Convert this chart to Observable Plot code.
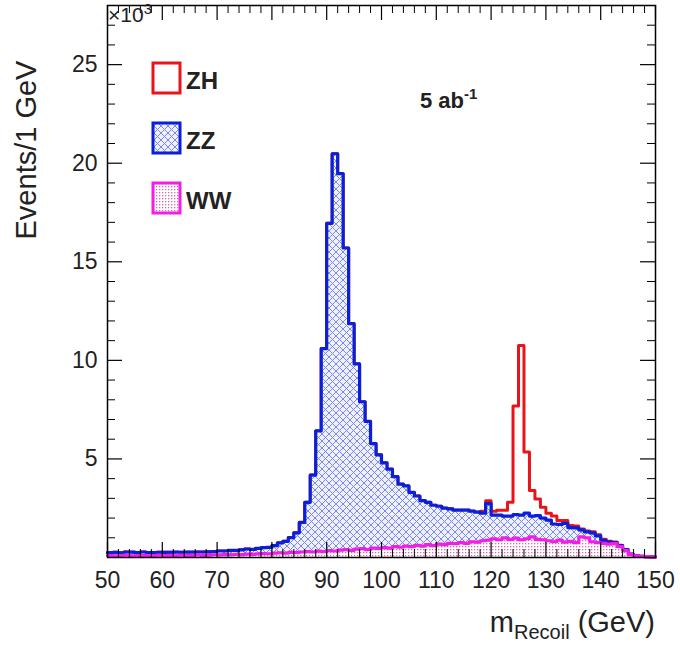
<!DOCTYPE html>
<html><head><meta charset="utf-8">
<script src="https://cdn.jsdelivr.net/npm/d3@7"></script>
<script src="https://cdn.jsdelivr.net/npm/@observablehq/plot@0.6"></script>
<style>body{margin:0;background:#fff}</style>
</head><body><div id="c"></div>
<script>
// bin lower edges 50..149 (1 GeV), values in 10^3 events
const binStart = d3.range(50, 150);
const ww = [
0.10,0.08,0.10,0.12,0.09,0.10,0.11,0.09,0.10,0.12,
0.10,0.11,0.09,0.12,0.10,0.11,0.13,0.10,0.12,0.14,
0.13,0.15,0.14,0.16,0.15,0.17,0.16,0.18,0.20,0.19,
0.22,0.24,0.22,0.26,0.25,0.28,0.30,0.28,0.32,0.30,
0.35,0.33,0.37,0.40,0.36,0.42,0.45,0.40,0.48,0.46,
0.50,0.48,0.55,0.52,0.58,0.55,0.62,0.58,0.65,0.60,
0.68,0.65,0.72,0.70,0.75,0.72,0.80,0.78,0.85,0.88,
0.95,0.90,1.00,0.92,0.98,0.90,0.95,1.05,0.92,0.90,
0.85,0.80,0.88,0.78,0.82,0.75,1.05,1.00,0.80,0.75,
0.72,0.68,0.70,0.55,0.35,0.15,0.08,0.05,0.04,0.03];
const zz = [
0.15,0.18,0.14,0.16,0.18,0.15,0.17,0.16,0.15,0.14,
0.16,0.15,0.18,0.14,0.17,0.16,0.15,0.18,0.17,0.16,
0.20,0.18,0.22,0.20,0.24,0.26,0.25,0.28,0.30,0.32,
0.38,0.50,0.60,0.75,1.00,1.50,2.50,3.90,6.10,10.30,
16.60,20.15,19.10,15.30,11.50,9.40,7.45,6.50,5.30,4.75,
4.30,4.00,3.55,3.20,3.05,2.75,2.50,2.30,2.15,2.05,
1.92,1.85,1.75,1.70,1.65,1.68,1.55,1.52,1.40,1.85,
1.20,1.25,1.10,1.18,1.20,1.25,1.30,1.05,1.20,1.10,
1.05,0.90,0.80,0.95,0.70,0.75,0.35,0.30,0.45,0.35,
0.15,0.10,0.06,0.05,0.05,0.02,0.01,0.01,0.00,0.00];
const zh = [
0,0,0,0,0,0,0,0,0,0, 0,0,0,0,0,0,0,0,0,0,
0,0,0,0,0,0,0,0,0,0, 0,0,0,0,0,0,0,0,0,0,
0,0,0,0,0,0,0,0,0,0, 0,0,0,0,0,0,0,0,0,0,
0,0,0,0,0,0,0,0,0.10,0.15,
0.20,0.25,0.30,0.70,5.50,8.60,3.10,1.30,0.85,0.55,
0.35,0.40,0.20,0.15,0.10,0.10,0.05,0.05,0.05,0.05,
0.05,0.05,0.03,0.02,0.01,0,0,0,0,0];
const xTicks = [50,60,70,80,90,100,110,120,130,140,150];
const yTicks = [5,10,15,20,25];

const rows = binStart.map((x,i)=>({x, ww:ww[i], zzt:ww[i]+zz[i], tot:ww[i]+zz[i]+zh[i]}));
rows.push({...rows[rows.length-1], x:150});

const W=680,H=647, ml=107, mr=25, mt=5, mb=90;
const yMax=28;
const pxX = (W-ml-mr)/100, pxY=(H-mt-mb)/yMax;
const majX = xTicks, minX = d3.range(50,151,2).filter(v=>!majX.includes(v));
const majY = yTicks, minY = d3.range(1,28,1).filter(v=>!majY.includes(v));
const tx=l=>l/pxY, ty=l=>l/pxX;

const plot = Plot.plot({
  width:W, height:H, marginLeft:ml, marginRight:mr, marginTop:mt, marginBottom:mb,
  x:{domain:[50,150], ticks:xTicks, tickSize:0, tickPadding:14, label:null},
  y:{domain:[0,yMax], ticks:yTicks, tickSize:0, tickPadding:10, label:null},
  style:{fontFamily:"Liberation Sans, Arial, sans-serif", fontSize:"23px", color:"#222"},
  marks:[
    Plot.areaY(rows,{x:"x",y:"tot",curve:"step-after",fill:"#fff"}),
    Plot.lineY(rows,{x:"x",y:"tot",curve:"step-after",stroke:"#e8141a",strokeWidth:3}),
    Plot.areaY(rows,{x:"x",y:"zzt",curve:"step-after",fill:"#ccd0f3"}),
    Plot.lineY(rows,{x:"x",y:"zzt",curve:"step-after",stroke:"#0b1fd6",strokeWidth:3.2}),
    Plot.areaY(rows,{x:"x",y:"ww",curve:"step-after",fill:"#f6dcec"}),
    Plot.lineY(rows,{x:"x",y:"ww",curve:"step-after",stroke:"#f01ee6",strokeWidth:3.2}),
    Plot.ruleX(majX,{y1:0,y2:tx(15),stroke:"#000",strokeWidth:1.2}),
    Plot.ruleX(minX,{y1:0,y2:tx(8),stroke:"#000"}),
    Plot.ruleX(majX,{y1:yMax,y2:yMax-tx(15),stroke:"#000",strokeWidth:1.2}),
    Plot.ruleX(minX,{y1:yMax,y2:yMax-tx(8),stroke:"#000"}),
    Plot.ruleY(majY,{x1:50,x2:50+ty(15),stroke:"#000",strokeWidth:1.2}),
    Plot.ruleY(minY,{x1:50,x2:50+ty(8),stroke:"#000"}),
    Plot.ruleY(majY,{x1:150,x2:150-ty(15),stroke:"#000",strokeWidth:1.2}),
    Plot.ruleY(minY,{x1:150,x2:150-ty(8),stroke:"#000"}),
    Plot.frame({stroke:"#000",strokeWidth:1.5})
  ]
});
const svg = d3.select(plot);
const defs = svg.insert("defs",":first-child");
const h = defs.append("pattern").attr("id","hatch").attr("patternUnits","userSpaceOnUse").attr("width",7).attr("height",7);
h.append("rect").attr("width",7).attr("height",7).attr("fill","#eef0fd");
h.append("path").attr("d","M0,0L7,7M7,0L0,7").attr("stroke","#7b88f2").attr("stroke-width",1);
const d = defs.append("pattern").attr("id","dots").attr("patternUnits","userSpaceOnUse").attr("width",3).attr("height",3);
d.append("rect").attr("width",3).attr("height",3).attr("fill","#fff");
d.append("rect").attr("width",1.3).attr("height",1.3).attr("fill","#d86ab0");
const areas = svg.selectAll("g[aria-label=area] path").nodes();
d3.select(areas[1]).attr("fill","url(#hatch)");
d3.select(areas[2]).attr("fill","url(#dots)");

const F="Liberation Sans, Arial, sans-serif";
function txt(x,y,size,anchor,bold){
  return svg.append("text").attr("x",x).attr("y",y).attr("text-anchor",anchor)
    .style("font-family",F).style("font-size",size+"px").style("font-weight",bold?"bold":"normal").style("fill","#222");
}
txt(0,0,29,"middle").attr("transform","translate(36,150) rotate(-90)").text("Events/1 GeV");
const xl = txt(655,632,29,"end");
xl.append("tspan").text("m");
xl.append("tspan").style("font-size","20px").attr("dy",7).text("Recoil");
xl.append("tspan").attr("dy",-7).text(" (GeV)");
const e = txt(108,22,21,"start");
e.append("tspan").text("×10");
e.append("tspan").style("font-size","15px").attr("dy",-8).text("3");
const lum = txt(420,108,22,"start",true);
lum.append("tspan").text("5 ab");
lum.append("tspan").style("font-size","15px").attr("dy",-9).text("-1");
const leg=[["ZH","#fff","#e8141a",63],["ZZ","url(#hatch)","#0b1fd6",123],["WW","url(#dots)","#f01ee6",183]];
for(const [t,f,s,y] of leg){
  svg.append("rect").attr("x",153).attr("y",y).attr("width",27).attr("height",30).attr("fill",f).attr("stroke",s).attr("stroke-width",3);
  txt(186,y+26,24,"start",true).text(t);
}
document.getElementById("c").append(plot);
</script></body></html>
